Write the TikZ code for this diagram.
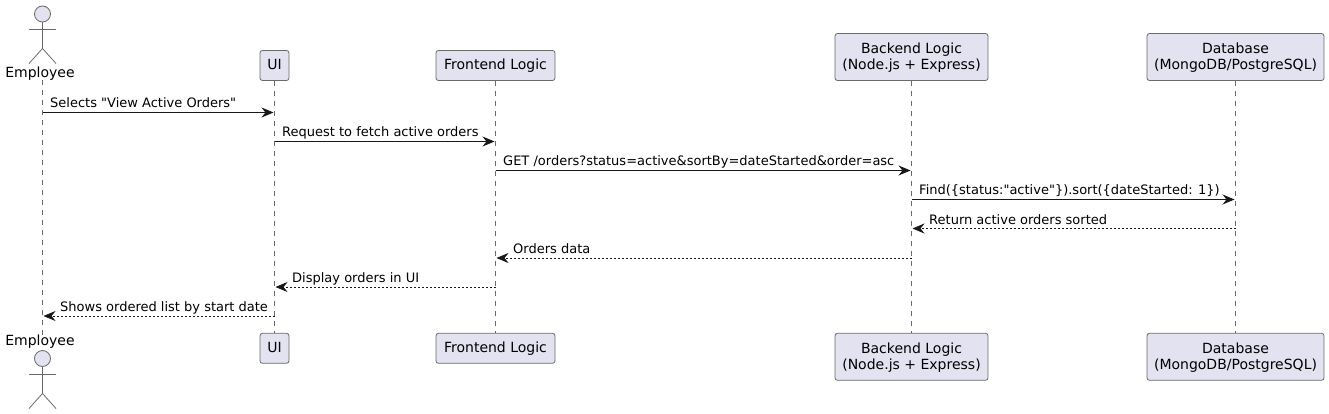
\documentclass[tikz,border=0pt]{standalone}
\usepackage{fontspec}
\setmainfont{DejaVu Sans}[Ligatures=TeXOff]
\usetikzlibrary{arrows.meta}
\definecolor{boxfill}{HTML}{E2E2F0}
\definecolor{inkline}{HTML}{181818}
\definecolor{softline}{HTML}{6A6A6A}
\tikzset{
  part/.style={draw=softline, line width=0.8pt, fill=boxfill, rounded corners=2.5pt, align=center, font=\fontsize{14}{16.2}\selectfont, inner sep=0pt, minimum height=30pt, text height=10.5pt, text depth=2.9pt},
  twoline/.style={minimum height=47pt, text height=27pt, text depth=1pt},
  actorlabel/.style={font=\fontsize{14}{16.5}\selectfont, inner sep=0pt, anchor=base, text=black},
  actorline/.style={draw=softline, line width=0.8pt},
  life/.style={draw=softline, line width=0.8pt, dash pattern=on 5pt off 5pt},
  msg/.style={font=\fontsize{13}{15}\selectfont, inner sep=0pt, anchor=base west, text=black},
  call/.style={draw=inkline, line width=0.9pt, -{Stealth[length=12pt,width=10pt,inset=4pt]}},
  reply/.style={draw=inkline, line width=0.7pt, dash pattern=on 2pt off 2pt, -{Stealth[length=12pt,width=10pt,inset=4pt]}}
}
\begin{document}
\begin{tikzpicture}[x=1pt,y=-1pt]
\useasboundingbox (0,0) rectangle (1329,414);
% top row
\node[actorlabel] (emptop) at (40,77.3) {Employee};
\node[part, minimum width=29pt] (uitop) at (274.5,65.5) {UI};
\node[part, minimum width=119pt] (fetop) at (495.5,65.5) {Frontend Logic};
\node[part, twoline, minimum width=153pt] (betop) at (911.5,57) {Backend Logic\\(Node.js + Express)};
\node[part, twoline, minimum width=177pt] (dbtop) at (1235.5,57) {Database\\(MongoDB/PostgreSQL)};
% bottom row
\node[actorlabel] (empbot) at (40,345.7) {Employee};
\node[part, minimum width=29pt] (uibot) at (274.5,348.3) {UI};
\node[part, minimum width=119pt] (febot) at (495.5,348.3) {Frontend Logic};
\node[part, twoline, minimum width=153pt] (bebot) at (911.5,356.8) {Backend Logic\\(Node.js + Express)};
\node[part, twoline, minimum width=177pt] (dbbot) at (1235.5,356.8) {Database\\(MongoDB/PostgreSQL)};
% actors
\node[actorline, fill=boxfill, circle, minimum size=16pt, inner sep=0pt] (headtop) at (42.5,14) {};
\coordinate (hiptop) at (42.5,48.5);
\coordinate (armtopl) at (29,29.5);
\coordinate (armtopr) at (56,29.5);
\coordinate (legtopl) at (29,63.5);
\coordinate (legtopr) at (56,63.5);
\draw[actorline] (headtop) -- (hiptop);
\draw[actorline] (armtopl) -- (armtopr);
\draw[actorline] (legtopl) -- (hiptop) -- (legtopr);
\node[actorline, fill=boxfill, circle, minimum size=16pt, inner sep=0pt] (headbot) at (42.5,358.5) {};
\coordinate (hipbot) at (42.5,393.5);
\coordinate (armbotl) at (29,374.5);
\coordinate (armbotr) at (56,374.5);
\coordinate (legbotl) at (29,408.5);
\coordinate (legbotr) at (56,408.5);
\draw[actorline] (headbot) -- (hipbot);
\draw[actorline] (armbotl) -- (armbotr);
\draw[actorline] (legbotl) -- (hipbot) -- (legbotr);
% lifelines
\draw[life] (headtop |- emptop.south) -- (headbot |- empbot.north);
\draw[life] (uitop) -- (uibot);
\draw[life] (fetop) -- (febot);
\draw[life] (betop) -- (bebot);
\draw[life] (dbtop) -- (dbbot);
% ends of the messages
\coordinate (e1) at (42.5,112.5);
\coordinate (u1) at (273.5,112.5);
\coordinate (u2) at (274.5,141.5);
\coordinate (f2) at (494.5,141.5);
\coordinate (f3) at (495.5,170.5);
\coordinate (b3) at (910.5,170.5);
\coordinate (b4) at (911.5,199.5);
\coordinate (d4) at (1234.5,199.5);
\coordinate (d5) at (1235.5,228.5);
\coordinate (b5) at (912.5,228.5);
\coordinate (b6) at (911.5,258);
\coordinate (f6) at (496.5,258);
\coordinate (f7) at (495.5,287);
\coordinate (u7) at (275.5,287);
\coordinate (u8) at (274.5,316);
\coordinate (e8) at (43.5,316);
% messages
\draw[call] (e1) -- (u1);
\draw[call] (u2) -- (f2);
\draw[call] (f3) -- (b3);
\draw[call] (b4) -- (d4);
\draw[reply] (d5) -- (b5);
\draw[reply] (b6) -- (f6);
\draw[reply] (f7) -- (u7);
\draw[reply] (u8) -- (e8);
\node[msg] (m1) at (50,107.7) {Selects "View Active Orders"};
\node[msg] (m2) at (282,136.7) {Request to fetch active orders};
\node[msg] (m3) at (503,165.7) {GET /orders?status=active\&sortBy=dateStarted\&order=asc};
\node[msg] (m4) at (919,194.7) {Find(\{status:"active"\}).sort(\{dateStarted: 1\})};
\node[msg] (m5) at (929,224) {Return active orders sorted};
\node[msg] (m6) at (513,253) {Orders data};
\node[msg] (m7) at (292,282) {Display orders in UI};
\node[msg] (m8) at (60,311) {Shows ordered list by start date};
\end{tikzpicture}
\end{document}
